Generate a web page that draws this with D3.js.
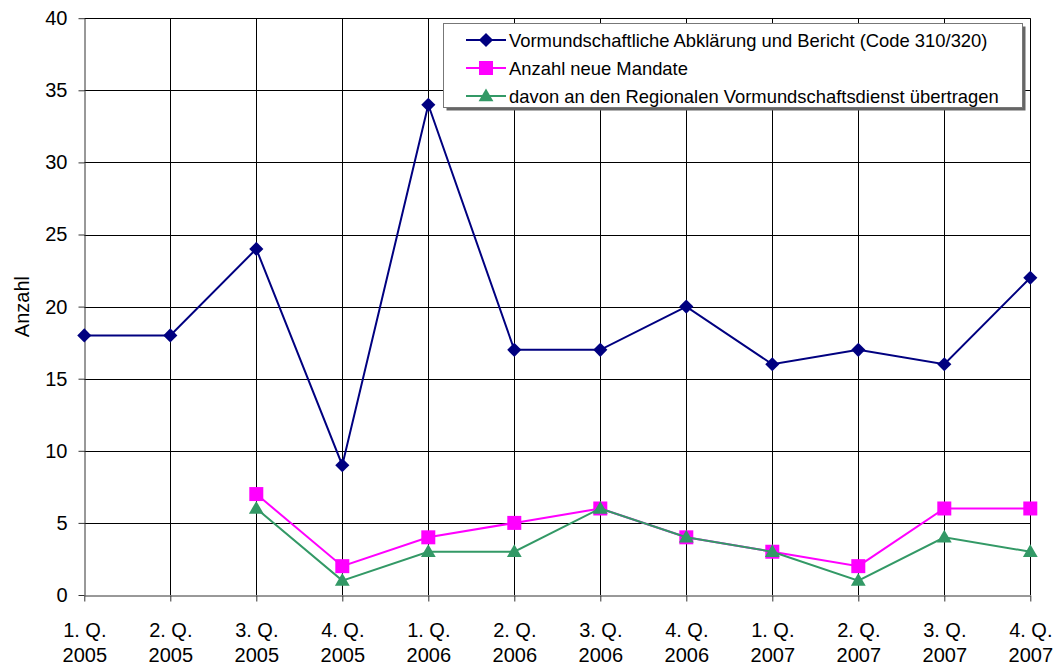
<!DOCTYPE html>
<html>
<head>
<meta charset="utf-8">
<script src="https://cdn.jsdelivr.net/npm/d3@7"></script>
<style>
  html, body { margin: 0; padding: 0; background: #fff; }
  svg { display: block; font-family: "Liberation Sans", Arial, sans-serif; }
</style>
</head>
<body>
<svg id="chart" width="1056" height="664"></svg>
<script>
// Quarter categories (two-line labels)
const quarters = ["1. Q.", "2. Q.", "3. Q.", "4. Q.", "1. Q.", "2. Q.", "3. Q.", "4. Q.", "1. Q.", "2. Q.", "3. Q.", "4. Q."];
const years = ["2005", "2005", "2005", "2005", "2006", "2006", "2006", "2006", "2007", "2007", "2007", "2007"];

// Series values (null = no value)
const abklaerung = [18, 18, 24, 9, 34, 17, 17, 20, 16, 17, 16, 22];
const neueMandate = [null, null, 7, 2, 4, 5, 6, 4, 3, 2, 6, 6];
const regionalerDienst = [null, null, 6, 1, 3, 3, 6, 4, 3, 1, 4, 3];

const seriesNames = [
  "Vormundschaftliche Abklärung und Bericht (Code 310/320)",
  "Anzahl neue Mandate",
  "davon an den Regionalen Vormundschaftsdienst übertragen"
];
const yTicks = [0, 5, 10, 15, 20, 25, 30, 35, 40];
const yLabel = "Anzahl";

// Marker shapes: diamond = square turned 45°, plain square, triangle
const series = [
  { name: seriesNames[0], values: abklaerung, color: "#000080", symbol: d3.symbolSquare, size: 100, rotate: 45, dy: 0 },
  { name: seriesNames[1], values: neueMandate, color: "#FF00FF", symbol: d3.symbolSquare, size: 196, rotate: 0, dy: 0 },
  { name: seriesNames[2], values: regionalerDienst, color: "#339966", symbol: d3.symbolTriangle, size: 95, rotate: 0, dy: 1 }
];

const svg = d3.select("#chart");
const margin = { left: 84.3, right: 1056 - 1030.3, top: 18.2, bottom: 664 - 595 };
const W = 1056, H = 664;

const idx = d3.range(quarters.length);
const x = d3.scalePoint().domain(idx).range([margin.left, W - margin.right]).padding(0);
const y = d3.scaleLinear().domain([0, 40]).range([H - margin.bottom, margin.top]);

// Gridlines
const grid = svg.append("g");
grid.selectAll("line.h").data(yTicks.filter(t => t > 0)).join("line")
  .attr("x1", margin.left).attr("x2", W - margin.right)
  .attr("y1", d => Math.round(y(d)) + 0.5).attr("y2", d => Math.round(y(d)) + 0.5)
  .attr("stroke", "#000").attr("stroke-width", 1);
grid.selectAll("line.v").data(idx.slice(1)).join("line")
  .attr("x1", d => Math.round(x(d)) + 0.5).attr("x2", d => Math.round(x(d)) + 0.5)
  .attr("y1", y(40)).attr("y2", y(0))
  .attr("stroke", "#000").attr("stroke-width", 1);

// Y axis
const yAxis = svg.append("g")
  .attr("transform", `translate(${Math.round(margin.left) + 0.5},0)`)
  .call(d3.axisLeft(y).tickValues(yTicks).tickSize(6).tickPadding(11).tickSizeOuter(0));
yAxis.selectAll("text").attr("font-size", 20).attr("fill", "#000")
  .style("font-family", "'Liberation Sans', Arial, sans-serif");
yAxis.selectAll("line, path").attr("stroke", "#333");

// X axis
const xAxis = svg.append("g")
  .attr("transform", `translate(0,${Math.round(y(0)) + 0.5})`)
  .call(d3.axisBottom(x).tickSize(6).tickSizeOuter(0).tickFormat(""));
xAxis.selectAll("line, path").attr("stroke", "#333");
xAxis.selectAll(".tick").append("text")
  .attr("text-anchor", "middle").attr("font-size", 20).attr("fill", "#000")
  .style("font-family", "'Liberation Sans', Arial, sans-serif")
  .each(function(d) {
    const t = d3.select(this);
    t.append("tspan").attr("x", 0).attr("y", 41).text(quarters[d]);
    t.append("tspan").attr("x", 0).attr("y", 66).text(years[d]);
  });

// Y axis title
svg.append("text")
  .attr("transform", `translate(29,${(y(0) + y(40)) / 2}) rotate(-90)`)
  .attr("text-anchor", "middle").attr("font-size", 20).attr("fill", "#000")
  .text(yLabel);

// Lines and markers
const line = d3.line().defined(d => d.v != null).x(d => x(d.i)).y(d => y(d.v));
series.forEach(s => {
  const pts = s.values.map((v, i) => ({ i, v }));
  svg.append("path").datum(pts)
    .attr("d", line).attr("fill", "none")
    .attr("stroke", s.color).attr("stroke-width", 2);
  svg.append("g").selectAll("path").data(pts.filter(p => p.v != null)).join("path")
    .attr("d", d3.symbol().type(s.symbol).size(s.size))
    .attr("transform", p => `translate(${x(p.i)},${y(p.v) + s.dy}) rotate(${s.rotate})`)
    .attr("fill", s.color);
});

// Legend
const lg = svg.append("g");
const lx = 443.5, ly = 23.5, lw = 579, lh = 84;
lg.append("rect").attr("x", lx + 3).attr("y", ly + 3).attr("width", lw).attr("height", lh).attr("fill", "#666");
lg.append("rect").attr("x", lx).attr("y", ly).attr("width", lw).attr("height", lh)
  .attr("fill", "#fff").attr("stroke", "#777").attr("stroke-width", 1);
series.forEach((s, k) => {
  const cy = 40 + k * 28;
  lg.append("line").attr("x1", 466).attr("x2", 506).attr("y1", cy).attr("y2", cy)
    .attr("stroke", s.color).attr("stroke-width", 2);
  lg.append("path").attr("d", d3.symbol().type(s.symbol).size(s.size))
    .attr("transform", `translate(486,${cy + s.dy}) rotate(${s.rotate})`).attr("fill", s.color);
  lg.append("text").attr("x", 509).attr("y", cy).attr("dy", "0.36em")
    .attr("font-size", 18.4).attr("fill", "#000").text(s.name);
});
</script>
</body>
</html>
